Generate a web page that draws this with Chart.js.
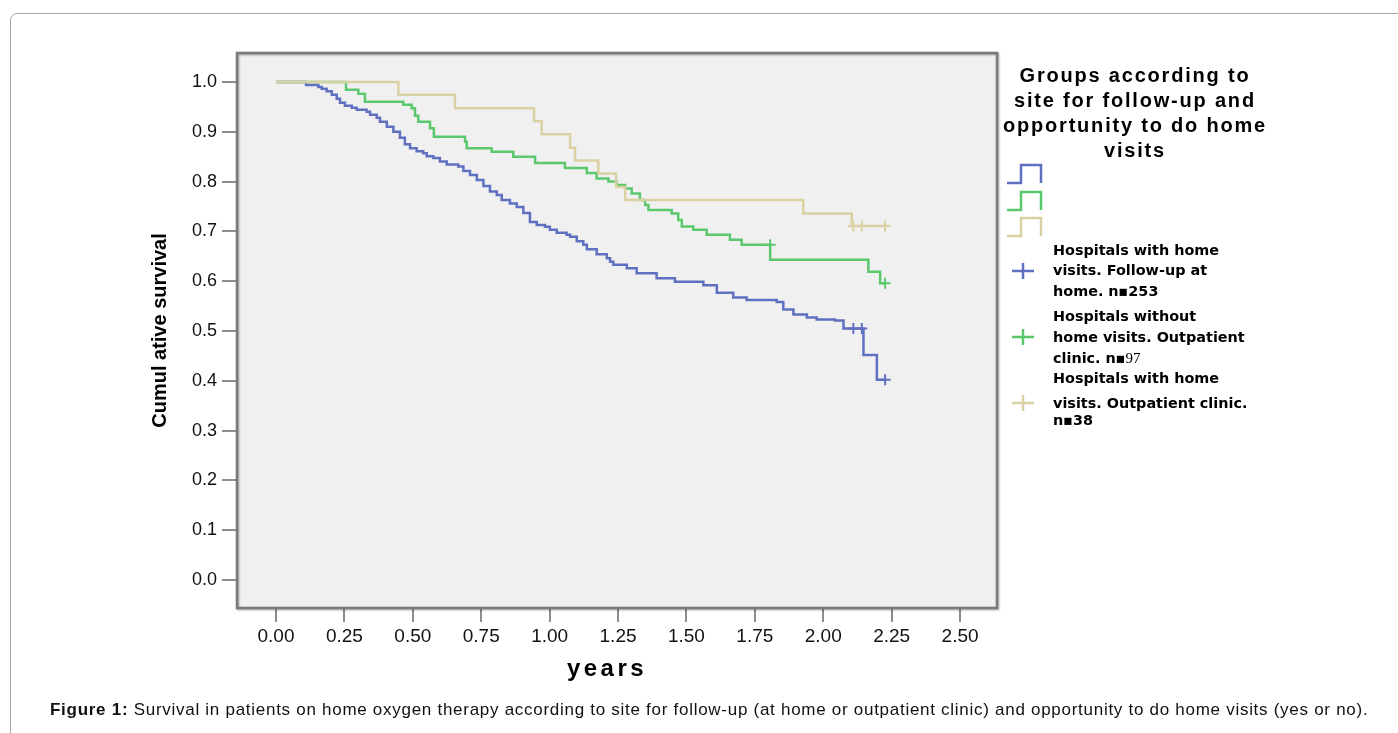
<!DOCTYPE html>
<html>
<head>
<meta charset="utf-8">
<title>Survival by follow-up site</title>
<script src="https://cdn.jsdelivr.net/npm/chart.js@4/dist/chart.umd.min.js"></script>
<style>
  body { margin: 0; width: 1398px; height: 733px; overflow: hidden; position: relative; background: #fff;
         font-family: "Liberation Sans", Arial, sans-serif; }
  #box { position: absolute; left: 10px; top: 13px; width: 1420px; height: 760px;
         border: 1px solid #a6a6a6; border-radius: 7px; }
  #chart { position: absolute; left: 0; top: 0; }
  .xtitle { position: absolute; left: 517px; top: 654px; width: 180px; text-align: center;
            font: bold 24px "Liberation Sans", Arial, sans-serif; letter-spacing: 3.5px; }
  .ltitle { position: absolute; left: 995px; top: 63px; width: 280px; text-align: center;
            font: bold 20px "Liberation Sans", Arial, sans-serif; letter-spacing: 1.8px; line-height: 25px; }
  .icon { position: absolute; left: 1000px; }
  .item { position: absolute; left: 1053px; font: bold 14.4px "DejaVu Sans", Verdana, sans-serif; white-space: nowrap; line-height: 16px; }
  .caption { position: absolute; left: 50px; top: 700px; font: 17px "Liberation Sans", Arial, sans-serif;
             letter-spacing: 0.72px; white-space: nowrap; color: #111; }
</style>
</head>
<body>
<div id="box"></div>
<canvas id="chart" width="1398" height="733"></canvas>
<div class="xtitle">years</div>
<div class="ltitle">Groups according to<br>site for follow-up and<br>opportunity to do home<br>visits</div>
<div id="legend"></div>
<div class="caption"><b>Figure 1:</b> Survival in patients on home oxygen therapy according to site for follow-up (at home or outpatient clinic) and opportunity to do home visits (yes or no).</div>
<script>
// tick labels
const xTicks = [0, 0.25, 0.5, 0.75, 1, 1.25, 1.5, 1.75, 2, 2.25, 2.5];
const yTicks = [0, 0.1, 0.2, 0.3, 0.4, 0.5, 0.6, 0.7, 0.8, 0.9, 1.0];

const groupColors = ['#6070c0', '#5cc86e', '#d9d1a3'];

// Hospitals with home visits, follow-up at home, n=253 (blue)
const homeTimes = [0, 0.110, 0.155, 0.167, 0.185, 0.204, 0.222, 0.234, 0.252, 0.277, 0.295, 0.331, 0.344, 0.368,
  0.380, 0.405, 0.429, 0.453, 0.471, 0.490, 0.514, 0.538, 0.551, 0.575, 0.599, 0.624, 0.666, 0.685, 0.709,
  0.734, 0.758, 0.782, 0.807, 0.825, 0.855, 0.880, 0.904, 0.928, 0.953, 0.983, 1.001, 1.026, 1.062, 1.075,
  1.099, 1.123, 1.136, 1.172, 1.209, 1.221, 1.233, 1.282, 1.318, 1.391, 1.458, 1.562, 1.611, 1.671, 1.720,
  1.830, 1.854, 1.891, 1.940, 1.976, 2.043, 2.074, 2.147, 2.196, 2.226];
const homeSurv = [1.000, 0.994, 0.990, 0.986, 0.981, 0.974, 0.966, 0.958, 0.952, 0.948, 0.944, 0.940, 0.934, 0.928,
  0.920, 0.910, 0.900, 0.888, 0.875, 0.867, 0.861, 0.857, 0.851, 0.847, 0.840, 0.834, 0.830, 0.821, 0.813,
  0.803, 0.791, 0.780, 0.773, 0.763, 0.756, 0.749, 0.737, 0.719, 0.713, 0.709, 0.703, 0.697, 0.693, 0.689,
  0.680, 0.673, 0.664, 0.654, 0.646, 0.639, 0.633, 0.626, 0.616, 0.606, 0.599, 0.592, 0.577, 0.567, 0.562,
  0.558, 0.543, 0.533, 0.527, 0.523, 0.521, 0.505, 0.452, 0.402, 0.402];
const homeCensorTimes = [2.110, 2.141, 2.226];
const homeCensorSurv = [0.505, 0.505, 0.402];

// Hospitals without home visits, outpatient clinic, n=97 (green)
const noVisitTimes = [0, 0.256, 0.301, 0.325, 0.465, 0.496, 0.508, 0.520, 0.563, 0.577, 0.691, 0.697, 0.788, 0.867,
  0.947, 1.056, 1.136, 1.172, 1.215, 1.245, 1.276, 1.300, 1.330, 1.349, 1.361, 1.446, 1.470, 1.483, 1.525,
  1.574, 1.659, 1.702, 1.806, 2.165, 2.208, 2.226];
const noVisitSurv = [1.000, 0.984, 0.976, 0.960, 0.954, 0.947, 0.932, 0.920, 0.907, 0.890, 0.880, 0.867, 0.860, 0.850,
  0.837, 0.827, 0.817, 0.806, 0.800, 0.793, 0.786, 0.776, 0.763, 0.753, 0.743, 0.736, 0.723, 0.710, 0.703,
  0.693, 0.683, 0.673, 0.643, 0.619, 0.596, 0.596];
const noVisitCensorTimes = [1.806, 2.226];
const noVisitCensorSurv = [0.673, 0.596];

// Hospitals with home visits, outpatient clinic, n=38 (tan)
const visitClinicTimes = [0, 0.447, 0.654, 0.943, 0.971, 1.075, 1.093, 1.178, 1.243, 1.276, 1.927, 2.104, 2.226];
const visitClinicSurv = [1.000, 0.974, 0.947, 0.921, 0.895, 0.868, 0.842, 0.816, 0.789, 0.763, 0.736, 0.711, 0.711];
const visitClinicCensorTimes = [2.110, 2.141, 2.226];
const visitClinicCensorSurv = [0.711, 0.711, 0.711];

const legendLines = [
  ['Hospitals with home', 'visits. Follow-up at', 'home. n\u25AA253'],
  ['Hospitals without', 'home visits. Outpatient', 'clinic. n\u25AA<span style="font:15px \'Liberation Serif\',serif">97</span>'],
  ['Hospitals with home', 'visits. Outpatient clinic.', 'n\u25AA38']
];

function pts(xs, ys) {
  return xs.map((x, i) => ({ x: x, y: ys[i] }));
}

function curve(xs, ys, color) {
  return { data: pts(xs, ys), borderColor: color, borderWidth: 2.5, stepped: true, pointRadius: 0, fill: false };
}

function censors(xs, ys, color) {
  return { data: pts(xs, ys), showLine: false, pointStyle: 'cross', pointRadius: 5.5, pointBorderWidth: 2,
           borderColor: color, backgroundColor: color };
}

// legend: step icons, crosses and labels
const legend = document.getElementById('legend');
let html = '';
const iconTops = [163, 190, 216];
groupColors.forEach((c, i) => {
  html += '<svg class="icon" style="top:' + iconTops[i] + 'px" width="50" height="24">' +
    '<polyline points="7,20 21,20 21,2 41,2 41,20" fill="none" stroke="' + c + '" stroke-width="2.5"/></svg>';
});
const crossY = [271, 337, 403];
const lineTops = [[242, 262, 283], [308, 329, 350], [370, 395, 412]];
groupColors.forEach((c, i) => {
  html += '<svg class="icon" style="left:1010px;top:' + (crossY[i] - 10) + 'px" width="26" height="20">' +
    '<path d="M2,10 H24 M13,2 V18" stroke="' + c + '" stroke-width="2.5"/></svg>';
  legendLines[i].forEach((t, j) => {
    html += '<div class="item" style="top:' + lineTops[i][j] + 'px">' + t + '</div>';
  });
});
legend.innerHTML = html;

// grey plot background and framed border
const framePlugin = {
  id: 'frame',
  beforeDatasetsDraw(chart) {
    const a = chart.chartArea, ctx = chart.ctx;
    ctx.save();
    ctx.fillStyle = '#f0f0f0';
    ctx.fillRect(a.left, a.top, a.right - a.left, a.bottom - a.top);
    ctx.restore();
  },
  afterDatasetsDraw(chart) {
    const a = chart.chartArea, ctx = chart.ctx;
    ctx.save();
    ctx.strokeStyle = '#7a7a7a';
    ctx.lineWidth = 2.5;
    ctx.shadowColor = 'rgba(0,0,0,0.35)';
    ctx.shadowBlur = 2;
    ctx.shadowOffsetX = 1;
    ctx.shadowOffsetY = 1;
    ctx.strokeRect(a.left, a.top, a.right - a.left, a.bottom - a.top);
    ctx.restore();
  }
};

new Chart(document.getElementById('chart').getContext('2d'), {
  type: 'line',
  data: {
    datasets: [
      censors(visitClinicCensorTimes, visitClinicCensorSurv, groupColors[2]),
      censors(noVisitCensorTimes, noVisitCensorSurv, groupColors[1]),
      censors(homeCensorTimes, homeCensorSurv, groupColors[0]),
      curve(visitClinicTimes, visitClinicSurv, groupColors[2]),
      curve(noVisitTimes, noVisitSurv, groupColors[1]),
      curve(homeTimes, homeSurv, groupColors[0])
    ]
  },
  options: {
    responsive: false,
    animation: false,
    layout: { padding: { left: 148, top: 53, right: 401, bottom: 65 } },
    plugins: { legend: { display: false }, tooltip: { enabled: false } },
    scales: {
      x: {
        type: 'linear',
        min: -0.1425,
        max: 2.635,
        afterBuildTicks: s => { s.ticks = xTicks.map(v => ({ value: v })); },
        afterFit: s => { s.height = 60; },
        border: { display: false },
        grid: { drawOnChartArea: false, tickLength: 14, color: '#8c8c8c', lineWidth: 2 },
        ticks: {
          padding: 3,
          color: '#111',
          font: { family: '"Liberation Sans", Arial', size: 19 },
          callback: v => v.toFixed(2)
        }
      },
      y: {
        min: -0.056,
        max: 1.058,
        afterBuildTicks: s => { s.ticks = yTicks.map(v => ({ value: v })); },
        afterFit: s => { s.width = 89; },
        border: { display: false },
        grid: { drawOnChartArea: false, tickLength: 15, color: '#8c8c8c', lineWidth: 2 },
        ticks: {
          padding: 5,
          color: '#111',
          font: { family: '"Liberation Sans", Arial', size: 18 },
          callback: v => v.toFixed(1)
        },
        title: {
          display: true,
          text: 'Cumul ative survival',
          color: '#000',
          padding: 0,
          font: { family: '"Liberation Sans", Arial', size: 20, weight: 'bold' }
        }
      }
    }
  },
  plugins: [framePlugin]
});
</script>
</body>
</html>
